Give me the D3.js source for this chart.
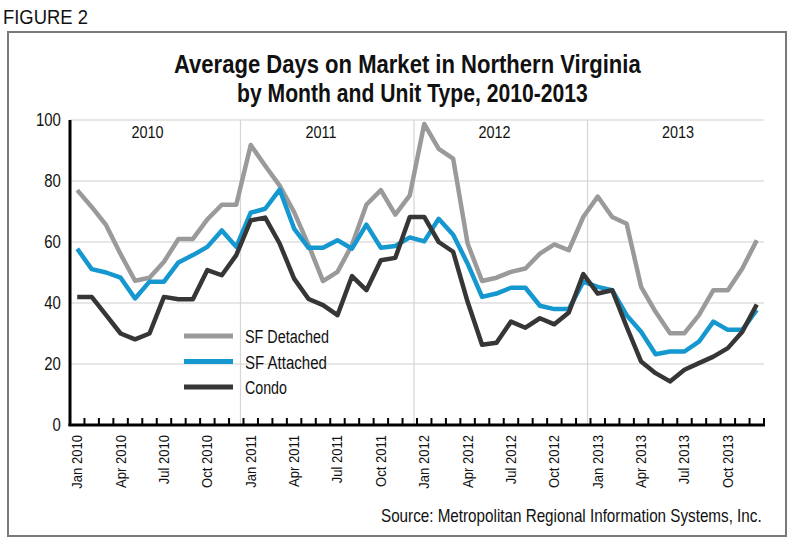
<!DOCTYPE html>
<html>
<head>
<meta charset="utf-8">
<script src="https://cdn.jsdelivr.net/npm/d3@7"></script>
<style>
  html, body { margin: 0; padding: 0; background: #fff; }
  svg { display: block; }
  text { font-family: "Liberation Sans", Arial, Helvetica, sans-serif; fill: #111; }
</style>
</head>
<body>
<svg id="chart" width="800" height="548"></svg>
<script>
const monthNames = ["Jan","Feb","Mar","Apr","May","Jun","Jul","Aug","Sep","Oct","Nov","Dec"];
const years = [2010, 2011, 2012, 2013];
const months = years.flatMap(y => monthNames.map(m => m + " " + y));

const sfDetached = [
  77, 71.5, 65.5, 56, 47.3, 48.3, 53.5, 61, 61, 67.4, 72.2, 72.2,
  91.8, 85, 78.5, 69.8, 59, 47.2, 50.2, 59, 72.2, 77, 69, 75.3,
  98.7, 90.5, 87.3, 59.5, 47.2, 48.3, 50.2, 51.3, 56.2, 59.2, 57.3, 68.2,
  74.9, 68.2, 66, 45.3, 37.1, 30.1, 30.1, 36, 44.2, 44.2, 51.3, 60.6
];
const sfAttached = [
  57.8, 51.1, 50, 48.3, 41.5, 47, 47, 53.3, 55.7, 58.4, 63.8, 58.4,
  69.6, 70.9, 77.2, 64.4, 58.1, 58.1, 60.6, 57.8, 65.7, 58.1, 58.7, 61.5,
  60.2, 67.6, 62.4, 52.9, 42, 43.1, 45, 45, 39.1, 38, 38, 47,
  45.3, 44.2, 36, 30.6, 23.2, 24.1, 24.1, 27.3, 33.9, 31.2, 31.2, 37.7
];
const condo = [
  42, 42, 36, 30, 28.1, 30, 42, 41.2, 41.2, 50.8, 49.1, 55.7,
  67.1, 68, 59.5, 48, 41.3, 39.3, 36, 48.8, 44.2, 54, 54.8, 68.2,
  68.2, 60, 56.8, 40.4, 26.3, 27, 33.9, 31.9, 35, 33, 36.9, 49.5,
  43.1, 44.2, 32.2, 20.8, 17, 14.3, 18.1, 20.3, 22.4, 25.2, 30.6, 39.5
];
const yTicks = [0, 20, 40, 60, 80, 100];
const seriesNames = ["SF Detached", "SF Attached", "Condo"];
const seriesColors = ["#9a9a9a", "#1598cf", "#363636"];
const series = [sfDetached, sfAttached, condo];

const svg = d3.select("#chart");

// condensed text helper (fixed horizontal scale)
function ctext(parent, x, y, str, size, sx, anchor, weight) {
  return parent.append("text")
    .attr("transform", `translate(${x},${y}) scale(${sx},1)`)
    .attr("font-size", size)
    .attr("text-anchor", anchor || "start")
    .attr("font-weight", weight || "normal")
    .text(str);
}
// text squeezed to a target width, starting at x
function fitText(parent, x, y, str, size, width, weight) {
  const t = parent.append("text")
    .attr("font-size", size)
    .attr("font-weight", weight || "normal")
    .text(str);
  const natural = t.node().getComputedTextLength() || width;
  t.attr("transform", `translate(${x},${y}) scale(${width / natural},1)`);
  return t;
}

// frame
svg.append("rect").attr("x", 8).attr("y", 32).attr("width", 778).attr("height", 504)
  .attr("fill", "#fff").attr("stroke", "#7a7a7a").attr("stroke-width", 2);

fitText(svg, 3, 24, "FIGURE 2", 20, 85);
fitText(svg, 174, 73, "Average Days on Market in Northern Virginia", 26, 467, "bold");
fitText(svg, 237, 102, "by Month and Unit Type, 2010-2013", 26, 351, "bold");

const x = d3.scaleBand().domain(months).range([70, 764]).paddingInner(0).paddingOuter(0);
const y = d3.scaleLinear().domain([0, 100]).range([425, 120]);
const cx = m => x(m) + x.bandwidth() / 2;

// horizontal gridlines
svg.append("g").selectAll("line").data(yTicks.filter(t => t > 0)).join("line")
  .attr("x1", 70).attr("x2", 764).attr("y1", d => y(d)).attr("y2", d => y(d))
  .attr("stroke", "#cfcfcf").attr("stroke-width", 1.2);

// vertical year separators
svg.append("g").selectAll("line").data(years.slice(1)).join("line")
  .attr("x1", d => x("Jan " + d) - 3).attr("x2", d => x("Jan " + d) - 3)
  .attr("y1", y(100)).attr("y2", y(0))
  .attr("stroke", "#d6d6d6").attr("stroke-width", 1.2);

// year labels
const gYears = svg.append("g");
years.forEach(d => ctext(gYears, cx("Jun " + d) + (d === 2013 ? 8 : -2), 138, d, 17, 0.85, "middle"));

// y axis
const yAxis = d3.axisLeft(y).tickValues(yTicks).tickSize(0).tickPadding(11);
const gy = svg.append("g").attr("transform", "translate(70,0)").call(yAxis);
gy.select(".domain").remove();
gy.selectAll("text").attr("font-size", 18).attr("fill", "#111")
  .attr("transform", "scale(0.83,1)")
  .style("font-family", '"Liberation Sans", Arial, sans-serif');

// lines
const line = d3.line().x((d, i) => cx(months[i])).y(d => y(d));
series.forEach((s, i) => {
  svg.append("path").datum(s).attr("d", line).attr("fill", "none")
    .attr("stroke", seriesColors[i]).attr("stroke-width", 4.5)
    .attr("stroke-linejoin", "round").attr("stroke-linecap", "butt");
});

// axes lines
svg.append("line").attr("x1", 70).attr("x2", 70).attr("y1", y(100)).attr("y2", y(0) + 1)
  .attr("stroke", "#000").attr("stroke-width", 3);
svg.append("line").attr("x1", 68.5).attr("x2", 765).attr("y1", y(0)).attr("y2", y(0))
  .attr("stroke", "#000").attr("stroke-width", 3);

// x ticks at category boundaries
const boundaries = months.slice(1).map(m => x(m)).concat([x.range()[1]]);
svg.append("g").selectAll("line").data(boundaries).join("line")
  .attr("x1", d => d).attr("x2", d => d).attr("y1", y(0)).attr("y2", y(0) - 7)
  .attr("stroke", "#000").attr("stroke-width", 2);

// x labels
const labelMonths = months.filter((m, i) => i % 3 === 0);
svg.append("g").selectAll("text").data(labelMonths).join("text")
  .attr("transform", d => `translate(${cx(d) + 5},${y(0) + 10}) rotate(-90) scale(0.9,1)`)
  .attr("text-anchor", "end").attr("font-size", 14.5).text(d => d);

// legend
const legendWidths = [84, 82, 42];
const legend = svg.append("g");
seriesNames.forEach((n, i) => {
  const ly = 336 + i * 25.5;
  legend.append("line").attr("x1", 184).attr("x2", 233).attr("y1", ly).attr("y2", ly)
    .attr("stroke", seriesColors[i]).attr("stroke-width", 5);
  fitText(legend, 245, ly + 7, n, 19, legendWidths[i]);
});

// source
fitText(svg, 381, 522, "Source: Metropolitan Regional Information Systems, Inc.", 17.5, 381);
</script>
</body>
</html>
